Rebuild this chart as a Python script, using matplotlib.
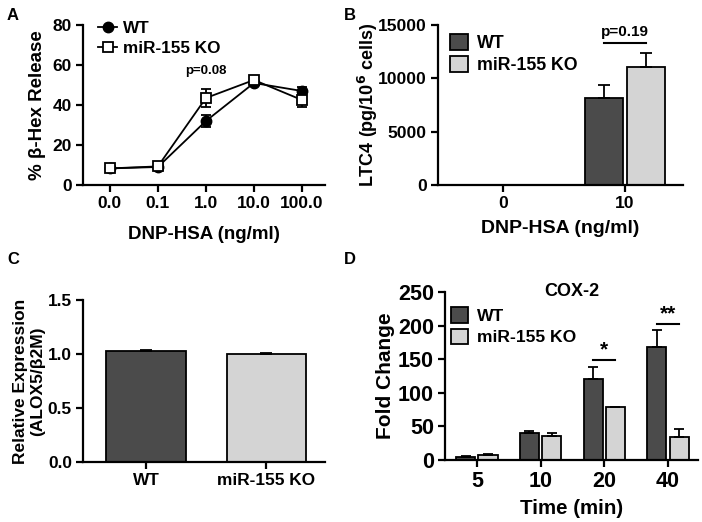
import matplotlib
matplotlib.use("Agg")
import matplotlib.pyplot as plt
from matplotlib.lines import Line2D
import numpy as np

plt.rcParams['font.family'] = ['Liberation Sans', 'DejaVu Sans']
plt.rcParams['font.weight'] = 'bold'
plt.rcParams['axes.labelweight'] = 'bold'

# Panel A data
a_doses = ["0.0", "0.1", "1.0", "10.0", "100.0"]
a_wt = [8.3, 9.0, 32.0, 51.0, 47.0]
a_wt_err = [0.8, 0.8, 3.2, 1.5, 2.0]
a_ko = [8.3, 9.3, 43.5, 52.5, 42.5]
a_ko_err = [0.8, 0.8, 4.5, 1.5, 3.5]

# Panel B data
b_doses = ["0", "10"]
b_wt = [0, 8200]
b_wt_err = [0, 1150]
b_ko = [0, 11100]
b_ko_err = [0, 1300]

# Panel C data
c_groups = ["WT", "miR-155 KO"]
c_vals = [1.03, 1.00]
c_err = [0.006, 0.005]

# Panel D data
d_times = ["5", "10", "20", "40"]
d_wt = [5.0, 39.5, 121.0, 168.0]
d_wt_err = [1.0, 4.0, 18.0, 25.0]
d_ko = [7.5, 35.5, 78.5, 34.5]
d_ko_err = [1.0, 5.0, 1.0, 12.0]

DARK = '#4b4b4b'
LIGHT = '#d4d4d4'
W, H = 702, 522
fig = plt.figure(figsize=(W / 100, H / 100), dpi=100)


def add_ax(l, r, t, b):
    return fig.add_axes([l / W, (H - b) / H, (r - l) / W, (b - t) / H])


def style(ax, size):
    for s in ['top', 'right']:
        ax.spines[s].set_visible(False)
    for s in ['left', 'bottom']:
        ax.spines[s].set_linewidth(1.6)
    ax.tick_params(width=1.6, length=5, labelsize=size, pad=3)
    for lab in ax.get_xticklabels() + ax.get_yticklabels():
        lab.set_fontweight('bold')


def labels(ax, xl, yl, xs, ys, xpos, ypos, ls=1.0):
    if xl:
        ax.set_xlabel(xl, fontsize=xs, va='center')
        ax.xaxis.set_label_coords(0.5, xpos)
    ax.set_ylabel(yl, fontsize=ys, va='center', linespacing=ls)
    ax.yaxis.set_label_coords(ypos, 0.5)


# ---------- Panel A ----------
ax = add_ax(83, 325, 25, 185)
x = np.arange(len(a_doses))
ax.errorbar(x, a_wt, yerr=a_wt_err, color='black', marker='o', ms=7.5,
            mfc='black', mec='black', lw=1.3, capsize=3.5, elinewidth=1.3,
            capthick=1.3, zorder=3)
ax.errorbar(x, a_ko, yerr=a_ko_err, color='black', marker='s', ms=7.5,
            mfc='white', mec='black', mew=1.3, lw=1.3, capsize=3.5,
            elinewidth=1.3, capthick=1.3, zorder=4)
ax.set_xlim(-0.56, 4.48)
ax.set_ylim(0, 80)
ax.set_yticks([0, 20, 40, 60, 80])
ax.set_xticks(x)
ax.set_xticklabels(a_doses)
labels(ax, 'DNP-HSA (ng/ml)', '% β-Hex Release', 13.5, 13.5, -0.31, -0.19)
ax.text(2, 54, 'p=0.08', ha='center', va='bottom', fontsize=9.5,
        fontweight='bold')
h = [Line2D([], [], color='black', marker='o', ms=7.5, mfc='black', lw=1.3),
     Line2D([], [], color='black', marker='s', ms=7.5, mfc='white', mew=1.3, lw=1.3)]
ax.legend(h, ['WT', 'miR-155 KO'], loc='upper left', bbox_to_anchor=(0.035, 1.065),
          frameon=False, handlelength=1.1, handletextpad=0.35,
          borderaxespad=0.0, labelspacing=0.25, prop={'weight': 'bold', 'size': 12.3})
style(ax, 12.5)

# ---------- Panel B ----------
ax = add_ax(438, 683, 25, 185)
x = np.arange(len(b_doses))
bw = 0.31
off = 0.172
ax.bar(x - off, b_wt, bw, color=DARK, edgecolor='black', lw=1.3, label='WT',
       yerr=[np.zeros(len(b_wt)), b_wt_err], capsize=4,
       error_kw=dict(elinewidth=1.3, capthick=1.3))
ax.bar(x + off, b_ko, bw, color=LIGHT, edgecolor='black', lw=1.3,
       label='miR-155 KO', yerr=[np.zeros(len(b_ko)), b_ko_err], capsize=4,
       error_kw=dict(elinewidth=1.3, capthick=1.3))
ax.set_xlim(-0.53, 1.475)
ax.set_ylim(0, 15000)
ax.set_yticks([0, 5000, 10000, 15000])
ax.set_xticks(x)
ax.set_xticklabels(b_doses)
labels(ax, 'DNP-HSA (ng/ml)', 'LTC4 (pg/10$^{\\mathbf{6}}$ cells)', 14, 13,
       -0.27, -0.286)
ax.plot([1 - off, 1 + off], [13300, 13300], color='black', lw=1.5)
ax.text(1, 13700, 'p=0.19', ha='center', va='bottom', fontsize=11,
        fontweight='bold')
ax.legend(loc='upper left', bbox_to_anchor=(0.02, 0.99), frameon=False,
          handlelength=1.0, handleheight=1.0, handletextpad=0.5,
          borderaxespad=0.0, labelspacing=0.25,
          prop={'weight': 'bold', 'size': 12.8})
style(ax, 12.6)

# ---------- Panel C ----------
ax = add_ax(83, 325, 300, 462)
x = np.arange(len(c_groups))
ax.bar(x, c_vals, 0.66, color=[DARK, LIGHT], edgecolor='black', lw=1.3,
       yerr=[np.zeros(len(c_vals)), c_err], capsize=4,
       error_kw=dict(elinewidth=1.3, capthick=1.3))
ax.set_xlim(-0.525, 1.49)
ax.set_ylim(0, 1.5)
ax.set_yticks([0, 0.5, 1.0, 1.5])
ax.set_yticklabels(['0.0', '0.5', '1.0', '1.5'])
ax.set_xticks(x)
ax.set_xticklabels(c_groups)
labels(ax, None, 'Relative Expression\n(ALOX5/β2M)', 0, 12.5, 0, -0.223, ls=1.2)
style(ax, 12.4)

# ---------- Panel D ----------
ax = add_ax(445, 698, 292, 460)
x = np.arange(len(d_times))
bw = 0.30
off = 0.175
ax.bar(x - off, d_wt, bw, color=DARK, edgecolor='black', lw=1.3, label='WT',
       yerr=[np.zeros(len(d_wt)), d_wt_err], capsize=3.5,
       error_kw=dict(elinewidth=1.3, capthick=1.3))
ax.bar(x + off, d_ko, bw, color=LIGHT, edgecolor='black', lw=1.3,
       label='miR-155 KO', yerr=[np.zeros(len(d_ko)), d_ko_err], capsize=3.5,
       error_kw=dict(elinewidth=1.3, capthick=1.3))
ax.set_xlim(-0.5, 3.47)
ax.set_ylim(0, 250)
ax.set_yticks([0, 50, 100, 150, 200, 250])
ax.set_xticks(x)
ax.set_xticklabels(d_times)
labels(ax, 'Time (min)', 'Fold Change', 14.8, 15, -0.286, -0.237)
ax.text(0.5, 1.0, 'COX-2', transform=ax.transAxes, ha='center', va='center',
        fontsize=13, fontweight='bold')
ax.plot([2 - off, 2 + off], [148.5, 148.5], color='black', lw=1.5)
ax.text(2, 150, '*', ha='center', va='bottom', fontsize=15, fontweight='bold')
ax.plot([3 - off, 3 + off], [203, 203], color='black', lw=1.5)
ax.text(3, 204, '**', ha='center', va='bottom', fontsize=15, fontweight='bold')
ax.legend(loc='upper left', bbox_to_anchor=(-0.004, 0.95), frameon=False,
          handlelength=1.0, handleheight=1.0, handletextpad=0.5,
          borderaxespad=0.0, labelspacing=0.25,
          prop={'weight': 'bold', 'size': 12.6})
style(ax, 15.5)

# Panel letters
for lbl, px, py in [('A', 7, 16), ('B', 344, 16), ('C', 7, 259), ('D', 344, 259)]:
    fig.text(px / W, 1 - py / H, lbl, fontsize=12, fontweight='bold',
             ha='left', va='center')

fig.savefig('out.png', dpi=100)
